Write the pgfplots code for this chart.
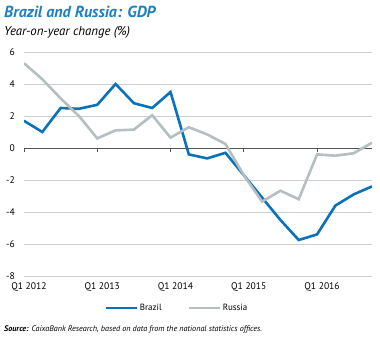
\documentclass[border=0pt]{standalone}
\usepackage{fontspec}
\setmainfont{PT Sans}
\usepackage{pgfplots}
\pgfplotsset{compat=1.18}
\definecolor{cbblue}{HTML}{0A72BA}
\definecolor{rugray}{HTML}{B5BEC1}
\definecolor{gridgray}{HTML}{CFCFCF}
\definecolor{zerogray}{HTML}{555555}
\definecolor{titleblue}{HTML}{1A7FC3}
\begin{document}
\begin{tikzpicture}
\useasboundingbox (0pt,-338pt) rectangle (380pt,0pt);
\node[anchor=base west, inner sep=0pt, font=\fontsize{16}{18}\selectfont\bfseries\itshape, text=titleblue] at (4pt,-17pt) {Brazil and Russia: GDP};
\node[anchor=base west, inner sep=0pt, font=\fontsize{12.8}{14}\selectfont\itshape] at (4pt,-35pt) {Year-on-year change (\%)};
\node[anchor=base west, inner sep=0pt, font=\fontsize{8.1}{9}\selectfont\itshape] at (4pt,-331pt) {\textbf{Source:} CaixaBank Research, based on data from the national statistics offices.};
\begin{axis}[
  at={(24pt,-276pt)}, anchor=south west,
  scale only axis, width=348pt, height=224pt,
  xmin=0, xmax=19, ymin=-8, ymax=6,
  axis line style={draw=none},
  ytick={-8,-6,...,6},
  xtick={0,4,8,12,16},
  xticklabels={Q1 2012,Q1 2013,Q1 2014,Q1 2015,Q1 2016},
  xtick style={draw=none}, ytick style={draw=none},
  ymajorgrids, grid style={gridgray, line width=0.6pt},
  /pgf/number format/assume math mode=true,
  ticklabel style={font=\fontsize{9.6}{11}\selectfont},
  yticklabel style={anchor=east, inner sep=0pt, xshift=-9pt},
  xticklabel style={xshift=5pt, yshift=-3pt},
  legend columns=2,
  legend style={at={(0.44,-0.143)}, anchor=center, draw=none, fill=none,
    font=\fontsize{9}{10}\selectfont,
    /tikz/every even column/.append style={column sep=24pt}},
  legend image code/.code={\draw[#1, line width=2pt] (0pt,0pt) -- (31pt,0pt);},
]
\draw[zerogray, line width=0.8pt] (axis cs:0,0) -- (axis cs:19,0);
\pgfplotsinvokeforeach{0,4,8,12,16}{\draw[zerogray, line width=0.8pt] (axis cs:#1,0) -- ++(0pt,-3.5pt);}
\addplot[cbblue, line width=2.6pt] coordinates {
(0,1.7) (1,1.0) (2,2.5) (3,2.45) (4,2.7) (5,4.0) (6,2.8) (7,2.5) (8,3.5) (9,-0.4)
(10,-0.65) (11,-0.3) (12,-1.7) (13,-3.1) (14,-4.5) (15,-5.75) (16,-5.4) (17,-3.6) (18,-2.9) (19,-2.4)};
\addlegendentry{Brazil}
\addplot[rugray, line width=2.6pt] coordinates {
(0,5.3) (1,4.3) (2,3.1) (3,2.0) (4,0.6) (5,1.1) (6,1.15) (7,2.05) (8,0.65) (9,1.3)
(10,0.85) (11,0.25) (12,-1.7) (13,-3.35) (14,-2.67) (15,-3.2) (16,-0.4) (17,-0.48) (18,-0.33) (19,0.33)};
\addlegendentry{Russia}
\end{axis}
\end{tikzpicture}
\end{document}
